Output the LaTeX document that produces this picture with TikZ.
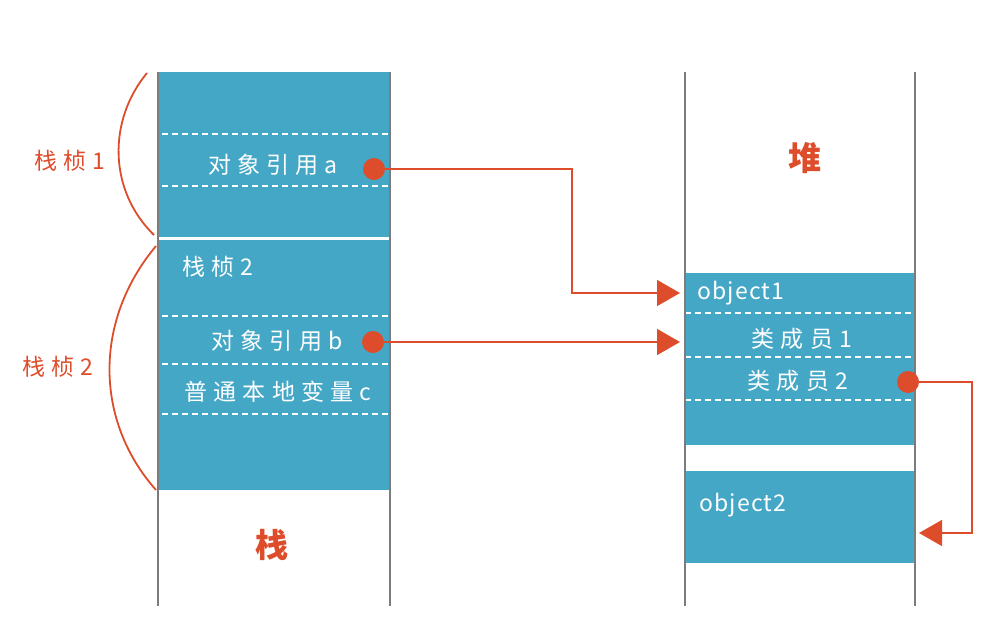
\documentclass[tikz,border=0pt]{standalone}
\usepackage{fontspec}
\usetikzlibrary{arrows.meta}
\newfontfamily\cjk[LetterSpace=27]{Noto Sans CJK SC}
\newfontfamily\lat[LetterSpace=5]{Noto Sans CJK SC}
\definecolor{cellblue}{HTML}{45A7C6}
\definecolor{penred}{HTML}{DE4D2B}
\definecolor{wallgray}{HTML}{7C7C7C}
\tikzset{
  cell/.style={fill=cellblue,draw=none},
  wall/.style={draw=wallgray,line width=2pt},
  slot/.style={draw=white,line width=2pt,dash pattern=on 6pt off 4pt},
  celltext/.style={text=white,inner sep=0pt,font=\fontsize{23}{26}\selectfont\cjk},
  objtext/.style={text=white,inner sep=0pt,anchor=west,font=\fontsize{23}{26}\selectfont\lat},
  sidetext/.style={text=penred,inner sep=0pt,font=\fontsize{23}{26}\selectfont\cjk},
  bigtext/.style={text=penred,inner sep=0pt,font=\fontsize{33}{36}\selectfont\bfseries\cjk},
  ref/.style={circle,fill=penred,draw=none,minimum size=22pt,inner sep=0pt},
  link/.style={draw=penred,line width=1.6pt,-{Triangle[width=26pt,length=23pt]}},
  brace/.style={draw=penred,line width=1.8pt}
}
\begin{document}
\begin{tikzpicture}[x=1pt,y=-1pt]
\useasboundingbox (0,0) rectangle (1007,638);

% blue frames of stack and heap
\fill[cell] (159,72) rectangle (390,237);
\fill[cell] (159,240) rectangle (390,490);
\fill[cell] (685,273) rectangle (915,445);
\fill[cell] (685,471) rectangle (915,563);

% dashed slot borders
\foreach \y in {134,186,316,364,414}
    \draw[slot] (162,\y) -- (390,\y);
\foreach \y in {313,357,400}
    \draw[slot] (685,\y) -- (915,\y);

% walls
\foreach \x in {158,390,685,915}
    \draw[wall] (\x,72) -- (\x,606);

% texts in the stack
\node[celltext] (refa)   at (273,165) {对象引用a};
\node[celltext] (frame2) at (218,267) {栈桢2};
\node[celltext] (refb)   at (277,341) {对象引用b};
\node[celltext] (localc) at (278,392) {普通本地变量c};
\node[bigtext]  (stack)  at (272,545) {栈};

% texts in the heap
\node[bigtext]  (heap)    at (805,158) {堆};
\node[objtext]  (object1) at (697,293) {object1};
\node[celltext] (member1) at (802,339) {类成员1};
\node[celltext] (member2) at (798,381) {类成员2};
\node[objtext]  (object2) at (699,505) {object2};

% frame braces
\draw[brace] (147,73) .. controls (108,120) and (108,190) .. (154,235);
\draw[brace] (156,246) .. controls (94,320) and (94,420) .. (156,490);
\node[sidetext] (label1) at (70,161) {栈桢1};
\node[sidetext] (label2) at (58,367) {栈桢2};

% references
\node[ref] (dota) at (374,169) {};
\node[ref] (dotb) at (373,342) {};
\node[ref] (dotc) at (908,382) {};
\coordinate (bendA) at (572,169);
\coordinate (inA) at (680,293);
\coordinate (inB) at (680,342);
\coordinate (bendC) at (972,382);
\coordinate (inC) at (919,533);

\draw[link] (dota.center) -- (bendA) |- (inA);
\draw[link] (dotb.center) -- (inB);
\draw[link] (dotc.center) -- (bendC) |- (inC);
\end{tikzpicture}
\end{document}
